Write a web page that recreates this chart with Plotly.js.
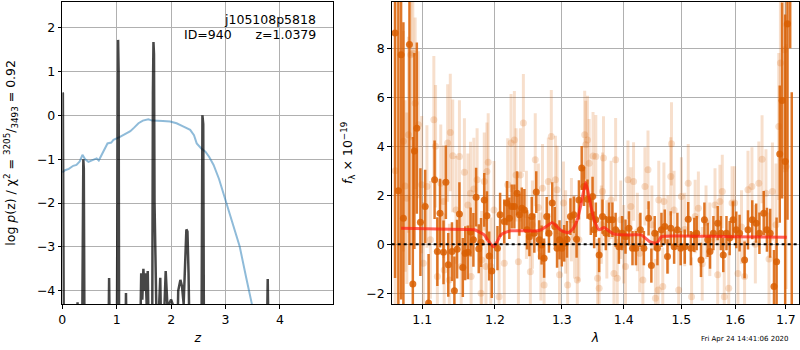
<!DOCTYPE html>
<html>
<head>
<meta charset="utf-8">
<script src="https://cdn.plot.ly/plotly-3.0.1.min.js"></script>
<style>html,body{margin:0;padding:0;background:#fff;}#chart{width:800px;height:350px;}</style>
</head>
<body>
<div id="chart"></div>
<script>
// ---- Left panel: redshift PDF ----
const pzZ = [0.000,0.010,0.030,0.260,0.280,0.300,0.360,0.375,0.386,0.395,0.410,0.840,0.860,0.880,1.000,1.015,1.025,1.035,1.045,1.150,1.170,1.190,1.420,1.450,1.470,1.490,1.510,1.530,1.550,1.570,1.600,1.650,1.665,1.675,1.685,1.695,1.720,1.750,1.780,1.800,1.830,1.870,1.900,1.930,1.960,2.000,2.040,2.100,2.130,2.170,2.200,2.230,2.260,2.280,2.300,2.320,2.350,2.555,2.575,2.590,2.605,3.750,3.775,3.800,4.950];
const pzLogp = [0.52,0.50,-6,-6,-4.26,-6,-6,-1.3,-1.0,-1.2,-6,-6,-3.71,-6,-6,0.5,1.72,1.0,-6,-6,-4.05,-6,-6,-3.6,-4.2,-3.5,-4.0,-3.6,-4.3,-3.55,-6,-6,0.5,1.67,1.4,-2,-4.3,-6,-4.3,-3.7,-6,-4.3,-3.55,-4.3,-4.3,-4.2,-4.35,-6,-4.0,-3.75,-3.9,-4.3,-3.2,-2.6,-2.65,-3.6,-6,-6,0.0,-0.2,-6,-6,-3.73,-6,-6];
const chiZ = [0,0.05,0.12,0.2,0.26,0.32,0.37,0.42,0.48,0.55,0.63,0.67,0.75,0.83,0.9,0.94,1.06,1.15,1.25,1.32,1.40,1.48,1.58,1.65,1.74,1.85,1.98,2.1,2.2,2.35,2.42,2.47,2.55,2.63,2.7,2.78,2.88,3.0,3.12,3.26,3.38,3.48,3.6];
const chiVal = [-1.30,-1.25,-1.22,-1.15,-1.13,-1.05,-0.9,-1.0,-1.06,-1.02,-0.98,-1.03,-0.85,-0.64,-0.62,-0.56,-0.49,-0.42,-0.36,-0.28,-0.18,-0.12,-0.09,-0.12,-0.12,-0.13,-0.14,-0.18,-0.24,-0.33,-0.45,-0.64,-0.75,-0.83,-0.95,-1.13,-1.45,-1.93,-2.4,-2.99,-3.7,-4.28,-5.2];

// ---- Right panel: spectrum ----
const darkLam = [1.0647,1.0689,1.0724,1.0754,1.0832,1.0876,1.0896,1.0928,1.0975,1.1038,1.1083,1.1163,1.1200,1.1236,1.1283,1.1315,1.1347,1.1398,1.1431,1.1468,1.1500,1.1547,1.1579,1.1617,1.1655,1.1694,1.1732,1.1769,1.1801,1.1847,1.1885,1.1917,1.1954,1.2036,1.2074,1.2134,1.2174,1.2208,1.2243,1.2282,1.2322,1.2356,1.2392,1.2430,1.2470,1.2505,1.2540,1.2579,1.2608,1.2653,1.2689,1.2727,1.2767,1.2801,1.2852,1.2890,1.2926,1.2964,1.3000,1.3037,1.3081,1.3135,1.3188,1.3232,1.3269,1.3313,1.3350,1.3406,1.3459,1.3487,1.3513,1.3540,1.3594,1.3649,1.3703,1.3756,1.3812,1.3865,1.3919,1.3974,1.4030,1.4088,1.4148,1.4206,1.4282,1.4342,1.4423,1.4471,1.4529,1.4577,1.4647,1.4705,1.4753,1.4811,1.4871,1.4929,1.4988,1.5061,1.5124,1.5172,1.5235,1.5278,1.5357,1.5420,1.5481,1.5524,1.5587,1.5667,1.5728,1.5772,1.5833,1.5894,1.5957,1.6019,1.6083,1.6180,1.6246,1.6329,1.6406,1.6470,1.6555,1.6619,1.6683,1.6760,1.6812,1.6876,1.6923,1.6986,1.7033,1.7088,1.7120];
const darkFlux = [8.62,2.18,7.74,1.06,8.15,-1.62,3.81,4.74,0.9,1.54,-2.4,2.63,-0.3,1.27,-0.33,2.53,-0.84,-0.3,-1.9,-0.2,1.23,-0.95,-0.37,-0.33,0.5,0.18,1.92,-0.18,0.07,1.81,1.16,-0.48,-1.09,-0.16,1.2,0.93,1.68,1.06,1.54,1.54,2.08,1.2,1.47,1.4,0.59,0.31,1.13,0.45,2.13,0.18,-0.03,-0.57,1.13,0.45,1.68,0.72,-0.16,0.18,-0.16,0.04,0.2,1.13,1.2,0.2,1.81,3.11,2.36,1.84,1.13,1.95,0.59,1.0,-0.44,1.13,0.45,1.0,1.0,0.59,-0.1,0.45,0.31,0.65,-0.16,-0.16,0.59,-0.16,1.06,-0.87,0.45,-0.16,0.59,0.72,-0.5,0.65,-0.1,0.59,-0.16,-0.1,1.02,-0.16,0.38,0.45,-0.64,1.0,0.18,-0.3,0.45,0.86,0.45,-0.44,0.45,0.25,1.0,0.59,0.45,-0.64,0.59,1.0,0.86,0.45,1.27,0.59,0.45,-1.73,-0.71,3.68,5.87,3.38,9.0,12,-3.5];
const darkErr = [10,9,10,8,9,6,4,3.5,2.2,1.5,2.0,1.6,1.4,1.4,1.3,1.5,1.3,1.2,1.4,1.2,1.3,1.2,1.1,1.1,1.0,1.1,1.2,1.0,1.0,1.1,1.0,1.0,1.1,0.9,0.9,0.9,0.9,0.85,0.9,0.9,0.9,0.85,0.85,0.85,0.8,0.8,0.8,0.8,0.85,0.8,0.8,0.8,0.8,0.8,0.85,0.8,0.8,0.8,0.75,0.75,0.75,0.75,0.75,0.75,0.8,0.9,0.8,0.8,0.75,0.8,0.75,0.7,0.7,0.7,0.7,0.7,0.7,0.7,0.7,0.7,0.7,0.7,0.7,0.7,0.7,0.7,0.7,0.7,0.7,0.7,0.7,0.7,0.7,0.7,0.7,0.7,0.7,0.7,0.7,0.7,0.7,0.7,0.7,0.7,0.7,0.7,0.7,0.7,0.7,0.7,0.7,0.7,0.75,0.75,0.75,0.75,0.8,0.8,0.8,0.85,0.9,0.9,1.0,1.5,1.8,2.8,4,6,8,4,9.7];

const lightLam = [1.0650,1.0754,1.0776,1.0798,1.0819,1.0850,1.0876,1.0906,1.0948,1.0992,1.1014,1.1061,1.1107,1.1153,1.1176,1.1200,1.1246,1.1283,1.1292,1.1339,1.1361,1.1375,1.1408,1.1454,1.1500,1.1524,1.1569,1.1617,1.1653,1.1662,1.1700,1.1746,1.1801,1.1811,1.1847,1.1871,1.1885,1.1903,1.1940,1.1986,1.2059,1.2134,1.2184,1.2233,1.2282,1.2307,1.2341,1.2371,1.2415,1.2460,1.2519,1.2550,1.2593,1.2640,1.2678,1.2703,1.2727,1.2792,1.2837,1.2901,1.2926,1.2964,1.3026,1.3060,1.3091,1.3150,1.3200,1.3243,1.3269,1.3361,1.3377,1.3406,1.3432,1.3495,1.3540,1.3568,1.3594,1.3630,1.3649,1.3665,1.3720,1.3790,1.3837,1.3865,1.3892,1.3950,1.4000,1.4030,1.4071,1.4120,1.4166,1.4230,1.4270,1.4325,1.4360,1.4413,1.4480,1.4542,1.4589,1.4600,1.4670,1.4690,1.4760,1.4811,1.4824,1.4870,1.4952,1.5000,1.5060,1.5124,1.5185,1.5250,1.5309,1.5380,1.5450,1.5520,1.5617,1.5667,1.5709,1.5754,1.5791,1.5876,1.5939,1.5987,1.6052,1.6120,1.6180,1.6246,1.6323,1.6390,1.6458,1.6522,1.6599,1.6660,1.6729,1.6800,1.6856,1.6889,1.6972,1.7005,1.7018];
const lightFlux = [3.0,4.2,2.38,1.88,4.47,7.74,7.8,5.76,4.88,2.43,-0.78,2.36,0.18,5.08,4.0,-1.32,2.49,1.74,-1.05,4.13,-1.46,4.56,3.61,1.4,3.58,-0.91,2.94,1.6,2.08,-1.32,2.25,2.63,-2.0,-0.64,2.56,-0.91,2.97,3.35,-0.91,1.4,-2.14,-0.78,2.43,4.13,4.26,2.83,-0.71,2.83,4.95,1.2,-1.12,0.8,3.45,1.5,-0.5,2.29,-1.66,2.56,4.4,2.63,2.22,-1.25,1.68,0.5,-1.66,1.0,0.3,-1.46,0.18,4.47,4.06,4.26,3.31,3.6,3.58,-1.39,-1.8,0.8,2.15,3.52,0.2,1.81,-1.19,3.45,-1.39,1.0,0.0,-0.91,2.63,1.54,2.56,0.5,-0.37,-1.46,2.36,3.04,0.8,-2.2,-1.87,1.81,-1.73,1.74,0.4,2.77,4.1,1.4,-1.87,1.95,0.6,2.49,-2.14,1.13,1.47,-0.8,0.9,0.2,1.6,-1.25,1.74,2.15,-2.14,-1.8,1.68,1.68,-1.19,0.7,-1.32,2.22,2.36,0.0,2.49,3.47,2.08,-0.6,2.15,0.8,4.81,7.4,7.94,3.17,8.96];
const lightErr = [8,4.5,3.5,3.5,4,3.5,3.5,3.5,3,2.8,2.5,2.5,2.4,2.6,2.5,2.4,2.4,2.3,2.3,2.4,2.3,2.4,2.3,2.2,2.3,2.2,2.2,2.1,2.1,2.1,2.1,2.1,2.1,2.0,2.0,2.0,2.0,2.0,2.0,2.0,2.0,1.9,1.9,2.0,2.0,1.9,1.9,1.9,2.0,1.8,1.8,1.8,1.9,1.8,1.8,1.8,1.8,1.8,1.9,1.8,1.8,1.7,1.7,1.7,1.7,1.7,1.7,1.7,1.7,1.8,1.8,1.8,1.8,1.8,1.7,1.6,1.6,1.6,1.6,1.7,1.6,1.6,1.6,1.7,1.6,1.6,1.6,1.6,1.6,1.6,1.6,1.6,1.6,1.6,1.6,1.6,1.6,1.6,1.6,1.6,1.6,1.6,1.6,1.6,1.7,1.6,1.6,1.6,1.5,1.6,1.6,1.5,1.5,1.5,1.5,1.5,1.5,1.5,1.5,1.5,1.5,1.5,1.5,1.5,1.5,1.5,1.5,1.6,1.6,1.6,1.7,1.8,1.8,1.9,2.0,2.5,3,4,5,5,6];

const modelLam = [1.0724,1.0900,1.1200,1.1600,1.1708,1.1847,1.1900,1.1978,1.2030,1.2085,1.2150,1.2233,1.2400,1.2629,1.2700,1.2777,1.2852,1.2900,1.2975,1.3050,1.3107,1.3180,1.3243,1.3300,1.3378,1.3440,1.3513,1.3594,1.3675,1.3750,1.3838,1.4118,1.4294,1.4441,1.4559,1.4600,1.4647,1.4942,1.5926,1.7019];
const modelFlux = [0.65,0.64,0.62,0.60,0.59,0.38,0.15,-0.1,0.1,0.38,0.48,0.55,0.55,0.55,0.62,0.75,0.89,0.78,0.59,0.5,0.48,0.65,1.0,1.6,2.52,1.8,1.0,0.59,0.68,0.55,0.41,0.38,0.38,0.11,0.04,0.15,0.31,0.34,0.31,0.29];

const xTicksLeft = [0,1,2,3,4];
const yTicksLeft = [-4,-3,-2,-1,0,1,2];
const xTicksRight = [1.1,1.2,1.3,1.4,1.5,1.6,1.7];
const xTickTextRight = ['1.1','1.2','1.3','1.4','1.5','1.6','1.7'];
const yTicksRight = [-2,0,2,4,6,8];

const darkCol = 'rgba(217,95,2,0.85)';
const lightCol = 'rgba(217,95,2,0.2)';

const traces = [
  {x: chiZ, y: chiVal, xaxis:'x', yaxis:'y', mode:'lines', line:{color:'rgba(31,119,180,0.5)', width:2}, hoverinfo:'skip'},
  {x: pzZ, y: pzLogp, xaxis:'x', yaxis:'y', mode:'lines', line:{color:'rgba(0,0,0,0.72)', width:2.5}, hoverinfo:'skip'},
  {x: lightLam, y: lightFlux, xaxis:'x2', yaxis:'y2', mode:'markers', type:'scatter',
   marker:{color:lightCol, size:7, line:{width:0}},
   error_y:{type:'data', array: lightErr, visible:true, color:lightCol, thickness:3, width:0}},
  {x: darkLam, y: darkFlux, xaxis:'x2', yaxis:'y2', mode:'markers', type:'scatter',
   marker:{color:darkCol, size:7, line:{width:0}},
   error_y:{type:'data', array: darkErr, visible:true, color:darkCol, thickness:2.5, width:0}},
  {x: modelLam, y: modelFlux, xaxis:'x2', yaxis:'y2', mode:'lines', line:{color:'rgba(255,30,20,0.7)', width:3, shape:'spline', smoothing:0.6}, hoverinfo:'skip'}
];

const font = {family:'DejaVu Sans', size:12.5, color:'#000'};
const axBase = {showline:true, linecolor:'#000', linewidth:1, mirror:true, ticks:'outside', ticklen:3.5, tickcolor:'#000',
  showgrid:true, gridcolor:'#b0b0b0', gridwidth:1, zeroline:false, tickfont:font};

const layout = {
  width:800, height:350, margin:{l:0,r:0,t:0,b:0}, paper_bgcolor:'#fff', plot_bgcolor:'#fff', showlegend:false,
  font: font,
  xaxis: Object.assign({}, axBase, {domain:[0.0779,0.4166], range:[0,4.98], tickvals:xTicksLeft, anchor:'y',
    title:{text:'<i>z</i>', font:font, standoff:7}}),
  yaxis: Object.assign({}, axBase, {domain:[0.1314,0.9951], range:[-4.3,2.59], tickvals:yTicksLeft, anchor:'x',
    title:{text:'log <i>p</i>(z) / χ<sup>2</sup> = <sup>3205</sup>/<sub>3493</sub> = 0.92', font:font, standoff:18}}),
  xaxis2: Object.assign({}, axBase, {domain:[0.4896,0.9988], type:'log', range:[Math.log10(1.0604), Math.log10(1.727)],
    tickvals:xTicksRight, ticktext:xTickTextRight, anchor:'y2', title:{text:'<i>λ</i>', font:font, standoff:7}}),
  yaxis2: Object.assign({}, axBase, {domain:[0.1314,0.9951], range:[-2.44,9.9], tickvals:yTicksRight, anchor:'x2',
    title:{text:'<i>f</i><sub>λ</sub> × 10<sup>−19</sup>', font:font, standoff:10}}),
  shapes: [
    {type:'line', xref:'x2 domain', yref:'y2', x0:0, x1:1, y0:0, y1:0, line:{color:'#000', width:2, dash:'dot'}}
  ],
  annotations: [
    {xref:'paper', yref:'paper', x:0.3975, y:0.9457, xanchor:'right', yanchor:'middle', showarrow:false, text:'j105108p5818', font:font},
    {xref:'paper', yref:'paper', x:0.3975, y:0.900, xanchor:'right', yanchor:'middle', showarrow:false, text:'ID=940\u00a0\u00a0\u00a0\u00a0\u00a0\u00a0z=1.0379', font:font},
    {xref:'paper', yref:'paper', x:0.931, y:0.031, xanchor:'center', yanchor:'middle', showarrow:false, text:'Fri Apr 24 14:41:06 2020', font:{family:'DejaVu Sans', size:7, color:'#000'}}
  ]
};

Plotly.newPlot('chart', traces, layout, {displayModeBar:false, staticPlot:true});
</script>
</body>
</html>
